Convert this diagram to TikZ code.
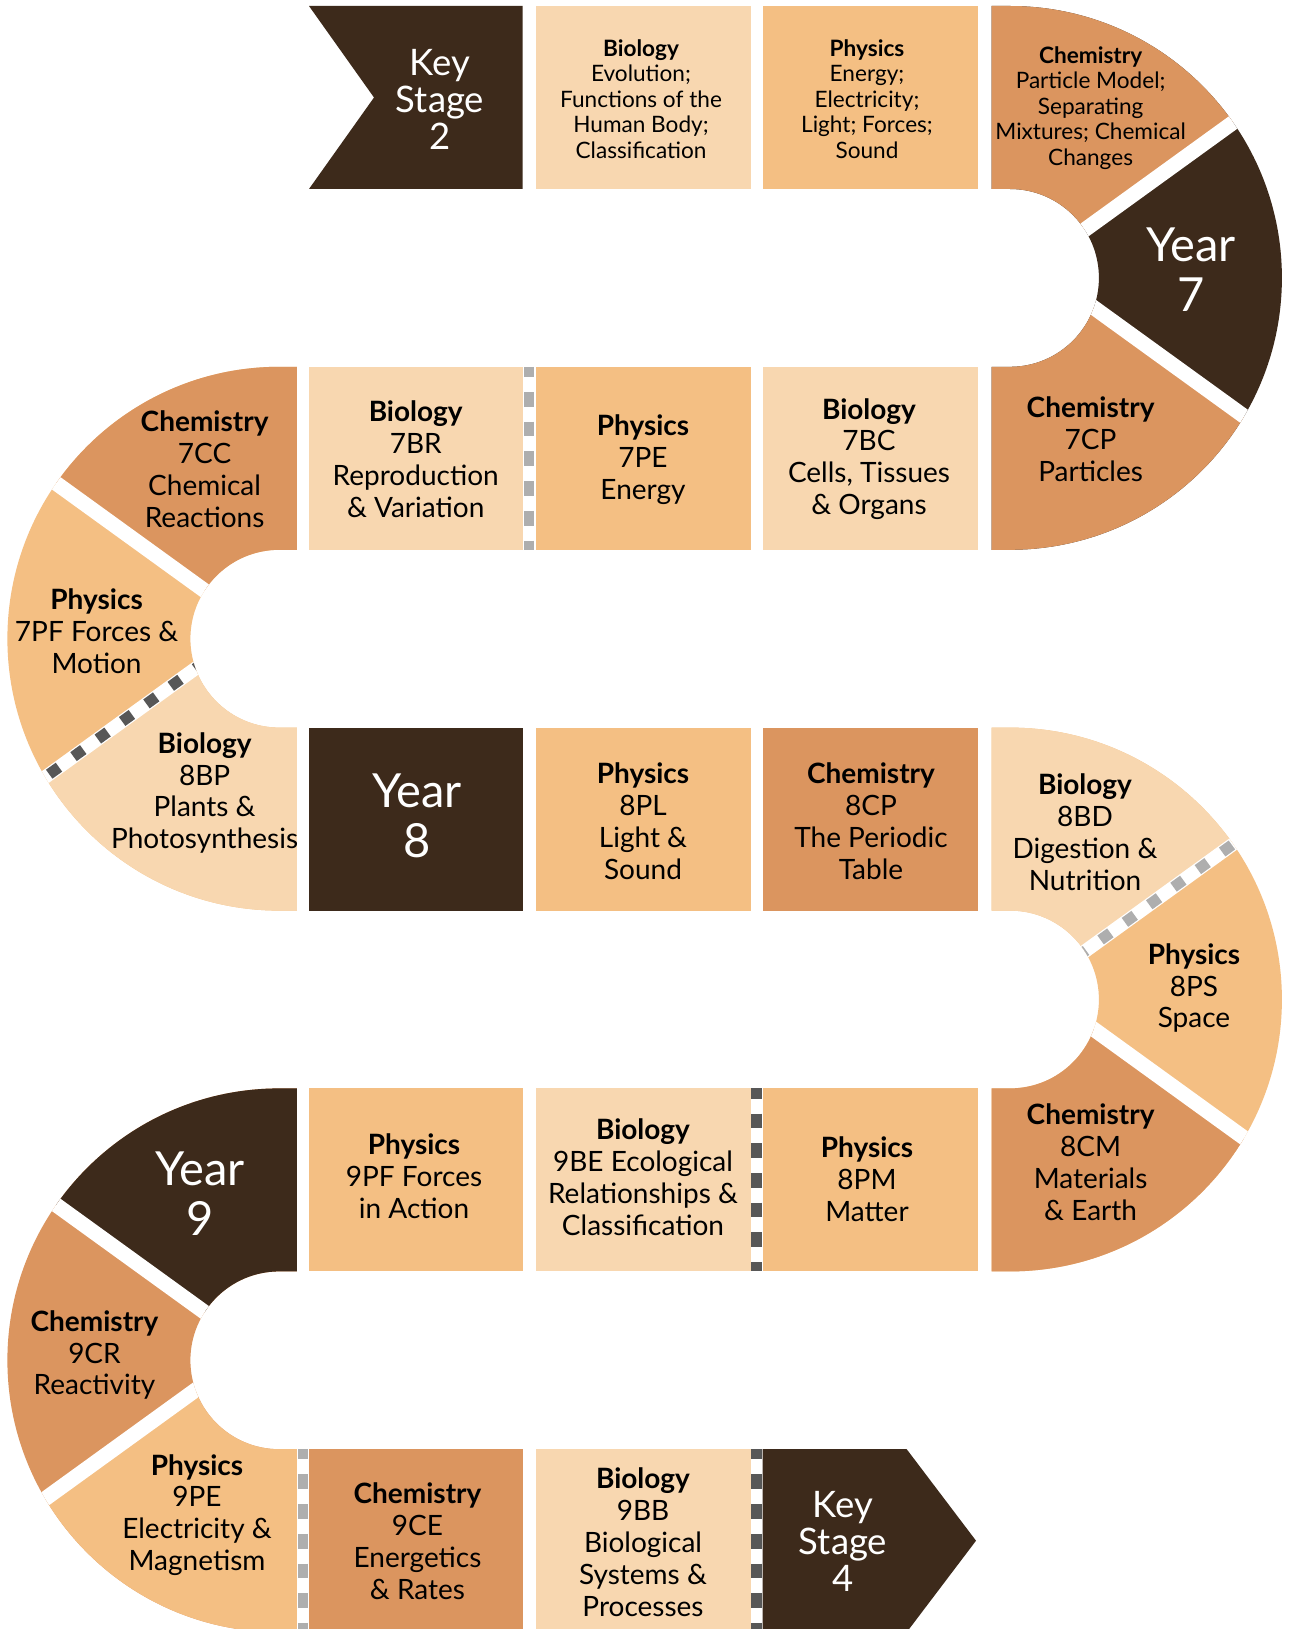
\documentclass[tikz,border=0pt]{standalone}
\usepackage{fontspec}
\setmainfont{Lato}
\definecolor{dark}{HTML}{3D2A1B}
\definecolor{chem}{HTML}{DB955F}
\definecolor{phys}{HTML}{F4BF83}
\definecolor{bio}{HTML}{F8D7B0}
\definecolor{dashL}{HTML}{AEAEAE}
\definecolor{dashD}{HTML}{575757}
\def\Rout{271.9}
\def\Rin{88.9}
\newcommand{\rightU}[2]{(#1-18.3,#2-\Rout) -- (#1,#2-\Rout) arc[start angle=-90,end angle=90,radius=\Rout] -- (#1-18.3,#2+\Rout) -- (#1-18.3,#2+\Rin) -- (#1,#2+\Rin) arc[start angle=90,end angle=-90,radius=\Rin] -- (#1-18.3,#2-\Rin) -- cycle}
\newcommand{\leftU}[2]{(#1+17.5,#2-\Rout) -- (#1,#2-\Rout) arc[start angle=-90,end angle=-270,radius=\Rout] -- (#1+17.5,#2+\Rout) -- (#1+17.5,#2+\Rin) -- (#1,#2+\Rin) arc[start angle=90,end angle=270,radius=\Rin] -- (#1+17.5,#2-\Rin) -- cycle}
\newcommand{\rightArc}[5]{%
  \fill[#4] \rightU{#1}{#2};
  \begin{scope}
    \clip (#1-40,#2+6) -- (#1,#2+6) -- (#1+359.5,#2-254.1) -- (#1+359.5,#2-320) -- (#1-40,#2-320) -- cycle;
    \fill[#3] \rightU{#1}{#2};
  \end{scope}
  \begin{scope}
    \clip (#1-40,#2-30.9) -- (#1,#2-30.9) -- (#1+367.7,#2+235.1) -- (#1+367.7,#2+320) -- (#1-40,#2+320) -- cycle;
    \fill[#5] \rightU{#1}{#2};
  \end{scope}}
\newcommand{\leftArc}[5]{%
  \fill[#4] \leftU{#1}{#2};
  \begin{scope}
    \clip (#1+40,#2+6) -- (#1,#2+6) -- (#1-359.5,#2-254.1) -- (#1-359.5,#2-320) -- (#1+40,#2-320) -- cycle;
    \fill[#3] \leftU{#1}{#2};
  \end{scope}
  \begin{scope}
    \clip (#1+40,#2-30.9) -- (#1,#2-30.9) -- (#1-367.7,#2+235.1) -- (#1-367.7,#2+320) -- (#1+40,#2+320) -- cycle;
    \fill[#5] \leftU{#1}{#2};
  \end{scope}}
\newcommand{\gapRT}[3]{\begin{scope}\clip \rightU{#1}{#2}; \draw[#3] (#1+66.3,#2-42) -- (#1+270.4,#2-189.6);\end{scope}}
\newcommand{\gapRB}[3]{\begin{scope}\clip \rightU{#1}{#2}; \draw[#3] (#1+74.5,#2+23) -- (#1+278.6,#2+170.6);\end{scope}}
\newcommand{\gapLT}[3]{\begin{scope}\clip \leftU{#1}{#2}; \draw[#3] (#1-66.3,#2-42) -- (#1-270.4,#2-189.6);\end{scope}}
\newcommand{\gapLB}[3]{\begin{scope}\clip \leftU{#1}{#2}; \draw[#3] (#1-74.5,#2+23) -- (#1-278.6,#2+170.6);\end{scope}}
\tikzset{
  txt/.style={align=center, inner sep=0pt, text=black, font=\fontsize{28}{31.9}\selectfont},
  stxt/.style={align=center, inner sep=0pt, text=black, font=\fontsize{22.6}{25.4}\selectfont},
  yeartxt/.style={align=center, inner sep=0pt, text=white, font=\fontsize{47}{50}\selectfont},
  kstxt/.style={align=center, inner sep=0pt, text=white, font=\fontsize{36.5}{37}\selectfont},
  whitegap/.style={draw=white, line width=15pt},
  dashbg/.style={draw=white, line width=13.5pt},
  ddashD/.style={draw=dashD, line width=11pt, dash pattern=on 12pt off 18pt},
  ddashL/.style={draw=dashL, line width=11pt, dash pattern=on 12pt off 18pt},
  vdL/.style={draw=dashL, line width=10.3pt, dash pattern=on 14.7pt off 15pt, dash phase=4.5pt},
  vdD/.style={draw=dashD, line width=10.3pt, dash pattern=on 14.7pt off 15pt, dash phase=4.5pt}
}
\begin{document}
\begin{tikzpicture}[x=1pt,y=-1pt]
\fill[white] (0,0) rectangle (1291,1629);
\useasboundingbox (0,0) rectangle (1291,1629);
% ---------- Row 1
\fill[dark] (309,6) -- (522.5,6) -- (522.5,189) -- (309,189) -- (374,97.5) -- cycle;
\fill[bio] (535.7,6) rectangle (750.5,189);
\fill[phys] (762.7,6) rectangle (978,189);
\rightArc{1010}{277.9}{chem}{dark}{chem}
% ---------- Row 2
\leftArc{279.3}{638.7}{chem}{phys}{bio}
\fill[bio] (309,366.8) rectangle (522.5,549.8);
\fill[phys] (535.7,366.8) rectangle (750.5,549.8);
\fill[bio] (762.7,366.8) rectangle (978,549.8);
% ---------- Row 3
\fill[dark] (309,727.6) rectangle (522.5,910.6);
\fill[phys] (535.7,727.6) rectangle (750.5,910.6);
\fill[chem] (762.7,727.6) rectangle (978,910.6);
\rightArc{1010}{999.5}{bio}{phys}{chem}
% ---------- Row 4
\leftArc{279.3}{1360.3}{dark}{chem}{phys}
\fill[phys] (309,1088.4) rectangle (522.5,1271.4);
\fill[bio] (535.7,1088.4) rectangle (750.5,1271.4);
\fill[phys] (762.7,1088.4) rectangle (978,1271.4);
% ---------- Row 5
\fill[chem] (309,1449.2) rectangle (522.5,1632.2);
\fill[bio] (535.7,1449.2) rectangle (750.5,1632.2);
\fill[dark] (762.7,1449.2) -- (906.7,1449.2) -- (976,1540.7) -- (906.7,1632.2) -- (762.7,1632.2) -- cycle;
% ---------- gaps in the arcs
\gapRT{1010}{277.9}{whitegap}
\gapRB{1010}{277.9}{whitegap}
\gapLT{279.3}{638.7}{whitegap}
\gapLB{279.3}{638.7}{dashbg}
\gapLB{279.3}{638.7}{ddashD}
\gapRT{1010}{999.5}{dashbg}
\gapRT{1010}{999.5}{ddashL}
\gapRB{1010}{999.5}{whitegap}
\gapLT{279.3}{1360.3}{whitegap}
\gapLB{279.3}{1360.3}{whitegap}
% ---------- vertical dashed separators
\draw[vdL] (529.1,366.8) -- (529.1,549.8);
\draw[vdD] (756.6,1088.4) -- (756.6,1271.4);
\draw[vdL] (302.9,1449.2) -- (302.9,1632.2);
\draw[vdD] (756.6,1449.2) -- (756.6,1632.2);
% ---------- texts
\node[kstxt] (ks2) at (440,99) {Key\\Stage\\2};
\node[stxt] (b1) at (641,99) {\textbf{Biology}\\Evolution;\\Functions of the\\Human Body;\\Classification};
\node[stxt] (p1) at (867,99) {\textbf{Physics}\\Energy;\\Electricity;\\Light; Forces;\\Sound};
\node[stxt] (c1) at (1090.6,108) {\textbf{Chemistry}\\Particle Model;\\Separating\\Mixtures; Chemical\\Changes};
\node[yeartxt] (y7) at (1191,270) {Year\\7};
\node[txt] (cp7) at (1090.6,439) {\textbf{Chemistry}\\7CP\\Particles};
\node[txt] (cc7) at (204.6,469) {\textbf{Chemistry}\\7CC\\Chemical\\Reactions};
\node[txt] (br7) at (415.7,459) {\textbf{Biology}\\7BR\\Reproduction\\\& Variation};
\node[txt] (pe7) at (643,460) {\textbf{Physics}\\7PE\\Energy};
\node[txt] (bc7) at (869,459) {\textbf{Biology}\\7BC\\Cells, Tissues\\\& Organs};
\node[txt] (pf7) at (96.6,631.5) {\textbf{Physics}\\7PF Forces \&\\Motion};
\node[txt] (bp8) at (204.6,793) {\textbf{Biology}\\8BP\\Plants \&\\Photosynthesis};
\node[yeartxt] (y8) at (417,816) {Year\\8};
\node[txt] (pl8) at (643,821.5) {\textbf{Physics}\\8PL\\Light \&\\Sound};
\node[txt] (cp8) at (871,821.5) {\textbf{Chemistry}\\8CP\\The Periodic\\Table};
\node[txt] (bd8) at (1085,832) {\textbf{Biology}\\8BD\\Digestion \&\\Nutrition};
\node[txt] (ps8) at (1194,988) {\textbf{Physics}\\8PS\\Space};
\node[txt] (cm8) at (1090.6,1162) {\textbf{Chemistry}\\8CM\\Materials\\\& Earth};
\node[txt] (pf9) at (414,1176) {\textbf{Physics}\\9PF Forces\\in Action};
\node[txt] (be9) at (643,1177) {\textbf{Biology}\\9BE Ecological\\Relationships \&\\Classification};
\node[txt] (pm8) at (867,1179) {\textbf{Physics}\\8PM\\Matter};
\node[yeartxt] (y9) at (200,1194) {Year\\9};
\node[txt] (cr9) at (94.5,1355) {\textbf{Chemistry}\\9CR\\Reactivity};
\node[txt] (pe9) at (197,1515) {\textbf{Physics}\\9PE\\Electricity \&\\Magnetism};
\node[txt] (ce9) at (417.5,1541) {\textbf{Chemistry}\\9CE\\Energetics\\\& Rates};
\node[txt] (bb9) at (643,1542) {\textbf{Biology}\\9BB\\Biological\\Systems \&\\Processes};
\node[kstxt] (ks4) at (843,1541) {Key\\Stage\\4};
\end{tikzpicture}
\end{document}
